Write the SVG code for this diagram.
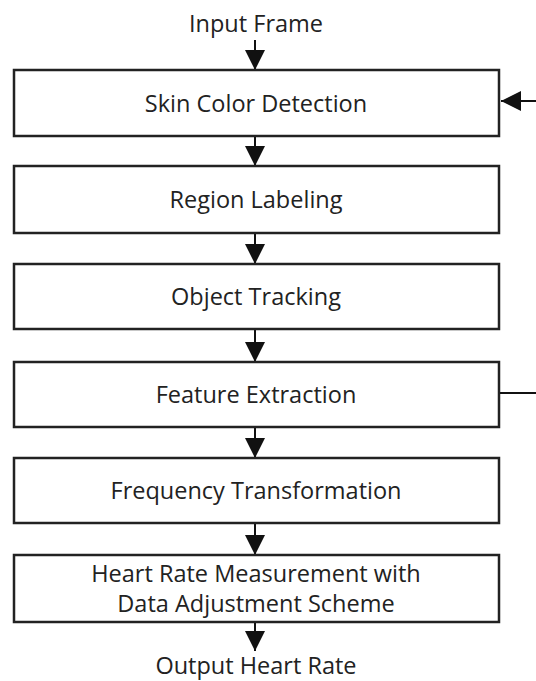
<svg xmlns="http://www.w3.org/2000/svg" width="536" height="681" viewBox="0 0 536 681">
<defs>
<marker id="ah" viewBox="0 0 20 20" refX="20" refY="10" markerWidth="20" markerHeight="20" markerUnits="userSpaceOnUse" orient="auto">
<path d="M0,0 L20,10 L0,20 Z" fill="#111"/>
</marker>
</defs>
<style>
.box{fill:#fff;stroke:#222;stroke-width:2.5}
.t{font-family:"Open Sans","Liberation Sans",sans-serif;font-size:23.5px;fill:#222;text-anchor:middle}
.c{fill:none;stroke:#111;stroke-width:2}
</style>
<rect width="536" height="681" fill="#fff"/>
<g id="connectors">
<line class="c" x1="255" y1="40" x2="255" y2="70" marker-end="url(#ah)"/>
<line class="c" x1="255" y1="136" x2="255" y2="166" marker-end="url(#ah)"/>
<line class="c" x1="255" y1="233" x2="255" y2="264" marker-end="url(#ah)"/>
<line class="c" x1="255" y1="329" x2="255" y2="362" marker-end="url(#ah)"/>
<line class="c" x1="255" y1="427" x2="255" y2="458" marker-end="url(#ah)"/>
<line class="c" x1="255" y1="523" x2="255" y2="555" marker-end="url(#ah)"/>
<line class="c" x1="255" y1="622" x2="255" y2="651" marker-end="url(#ah)"/>
<path class="c" d="M499,393 L545,393 L545,101 L501,101" marker-end="url(#ah)"/>
</g>
<g id="input"><text class="t" x="256" y="32">Input Frame</text></g>
<g id="skin"><rect class="box" x="14" y="70" width="485" height="66"/><text class="t" x="256" y="112">Skin Color Detection</text></g>
<g id="region"><rect class="box" x="14" y="166" width="485" height="67"/><text class="t" x="256" y="208">Region Labeling</text></g>
<g id="tracking"><rect class="box" x="14" y="264" width="485" height="65"/><text class="t" x="256" y="305">Object Tracking</text></g>
<g id="feature"><rect class="box" x="14" y="362" width="485" height="65"/><text class="t" x="256" y="403">Feature Extraction</text></g>
<g id="frequency"><rect class="box" x="14" y="458" width="485" height="65"/><text class="t" x="256" y="499">Frequency Transformation</text></g>
<g id="heart"><rect class="box" x="14" y="555" width="485" height="67"/><text class="t" x="256" y="582">Heart Rate Measurement with</text><text class="t" x="256" y="612">Data Adjustment Scheme</text></g>
<g id="output"><text class="t" x="256" y="674">Output Heart Rate</text></g>
</svg>
